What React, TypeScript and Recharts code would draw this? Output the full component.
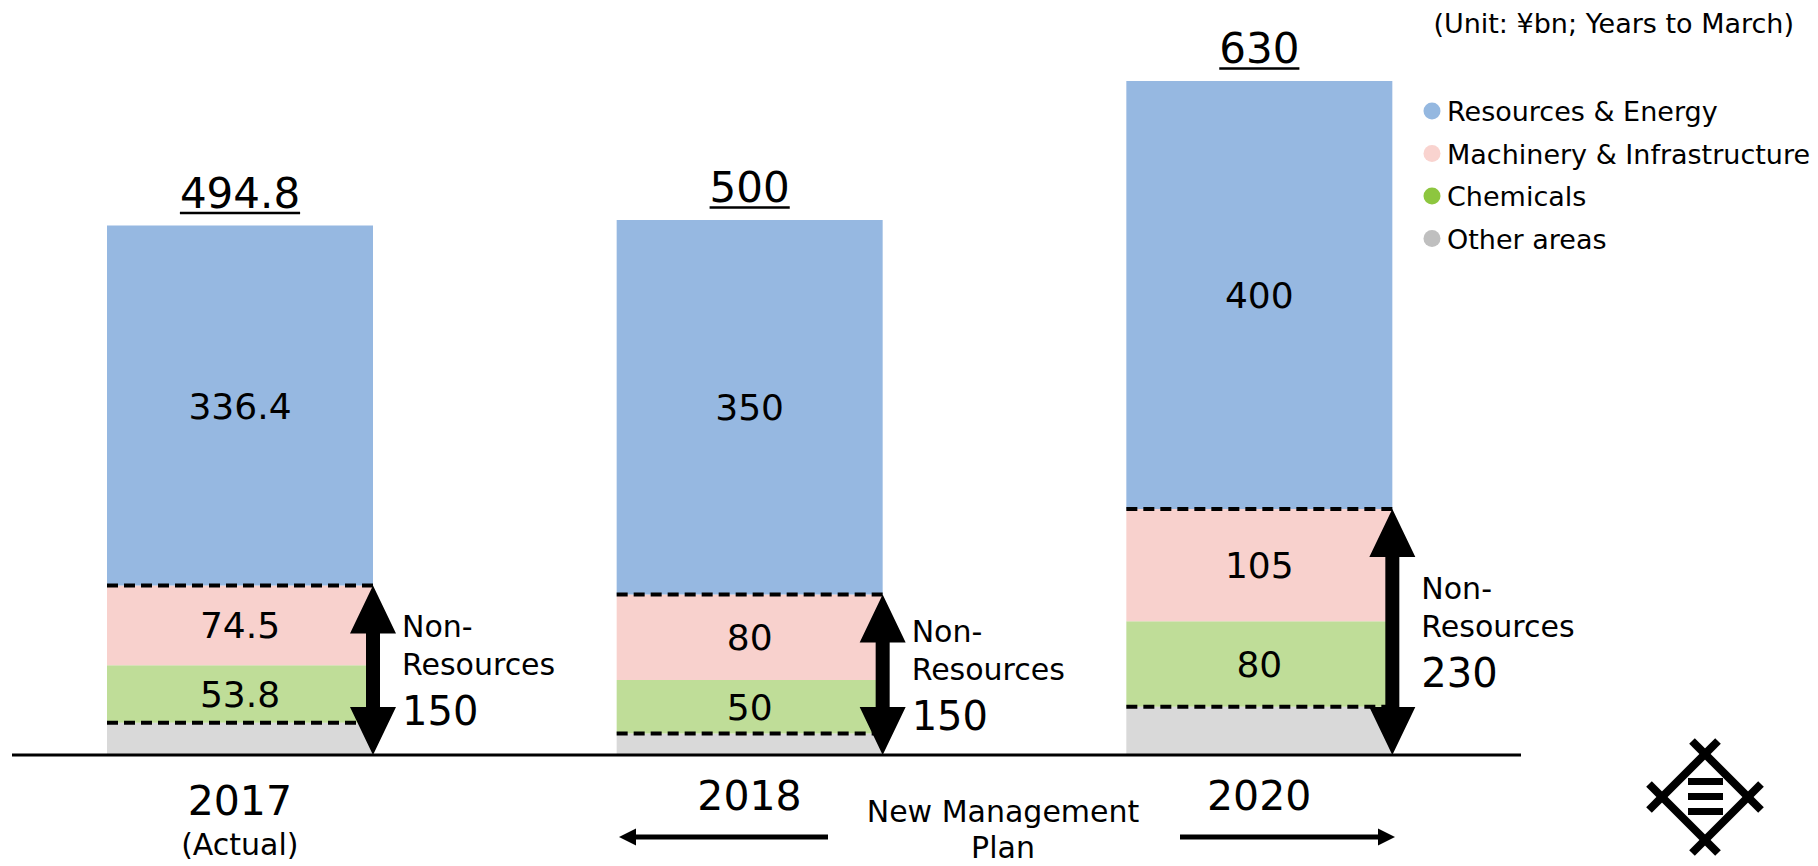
import React from 'react';
import { BarChart, Bar, XAxis, YAxis, LabelList } from 'recharts';

const years = ['2017', '2018', '2020'];
const yearNotes = ['(Actual)', '', ''];
const resourcesEnergy = [336.4, 350, 400];
const machineryInfra = [74.5, 80, 105];
const chemicals = [53.8, 50, 80];
const otherAreas = [30.1, 20, 45];
const totalLabels = ['494.8', '500', '630'];
const nonResourcesLabels = ['150', '150', '230'];

const seriesNames = ['Resources & Energy', 'Machinery & Infrastructure', 'Chemicals', 'Other areas'];
const barColors = ['#96B8E1', '#F8D1CD', '#BFDD98', '#D9D9D9'];
const legendColors = ['#95B8E0', '#F9D3CF', '#8DC63F', '#BFBFBF'];

const FONT = '"DejaVu Sans", Verdana, sans-serif';

const data = years.map((year, i) => ({
  year,
  other: otherAreas[i],
  chem: chemicals[i],
  mach: machineryInfra[i],
  res: resourcesEnergy[i],
}));

// approximate DejaVu Sans advance widths (em) for underline length
const charW = (c: string) => (c === '.' ? 0.318 : 0.636);
const textWidth = (s: string, size: number) => s.split('').reduce((a, c) => a + charW(c), 0) * size;

const getBox = (props: any) => {
  const vb = props.viewBox || {};
  return {
    x: Number(vb.x ?? props.x),
    y: Number(vb.y ?? props.y),
    width: Number(vb.width ?? props.width),
    height: Number(vb.height ?? props.height),
  };
};

const CenterLabel = (props: any) => {
  const { x, y, width, height } = getBox(props);
  return (
    <text
      x={x + width / 2}
      y={y + height / 2 + 13}
      textAnchor="middle"
      fontSize={36}
      fontFamily={FONT}
      fill="#000"
    >
      {props.value}
    </text>
  );
};

const TopAnnotations = (props: any) => {
  const { x, y, width, height } = getBox(props);
  const i = props.index;
  const ppu = height / resourcesEnergy[i];
  const machTop = y + height;
  const chemBottom = machTop + (machineryInfra[i] + chemicals[i]) * ppu;
  const base = chemBottom + otherAreas[i] * ppu;
  const cx = x + width / 2;
  const ax = x + width;
  const hw = 23;
  const hl = 48;
  const sw = 7;
  const pts = [
    [ax, machTop],
    [ax + hw, machTop + hl],
    [ax + sw, machTop + hl],
    [ax + sw, base - hl],
    [ax + hw, base - hl],
    [ax, base],
    [ax - hw, base - hl],
    [ax - sw, base - hl],
    [ax - sw, machTop + hl],
    [ax - hw, machTop + hl],
  ]
    .map((p) => p.join(','))
    .join(' ');
  const mid = (machTop + base) / 2;
  const tx = ax + 29;
  const total = totalLabels[i];
  const tw = textWidth(total, 42);
  return (
    <g>
      <line x1={x} x2={ax} y1={machTop} y2={machTop} stroke="#000" strokeWidth={4} strokeDasharray="11 6" />
      <line x1={x} x2={ax} y1={chemBottom} y2={chemBottom} stroke="#000" strokeWidth={4} strokeDasharray="11 6" />
      <polygon points={pts} fill="#000" />
      <text x={tx} y={mid - 33} fontSize={30} fontFamily={FONT} fill="#000">Non-</text>
      <text x={tx} y={mid + 5} fontSize={30} fontFamily={FONT} fill="#000">Resources</text>
      <text x={tx} y={mid + 55} fontSize={40} fontFamily={FONT} fill="#000">{nonResourcesLabels[i]}</text>
      <text x={cx} y={y - 18} textAnchor="middle" fontSize={42} fontFamily={FONT} fill="#000">{total}</text>
      <line x1={cx - tw / 2} x2={cx + tw / 2} y1={y - 12.5} y2={y - 12.5} stroke="#000" strokeWidth={2.5} />
    </g>
  );
};

const YearTick = (props: any) => {
  const { x, y, payload } = props;
  const i = years.indexOf(String(payload.value));
  const note = yearNotes[i];
  return (
    <g>
      <text x={x} y={y + (note ? 60 : 55)} textAnchor="middle" fontSize={41} fontFamily={FONT} fill="#000">
        {payload.value}
      </text>
      {note ? (
        <text x={x} y={y + 100} textAnchor="middle" fontSize={30} fontFamily={FONT} fill="#000">
          {note}
        </text>
      ) : null}
    </g>
  );
};

const Logo = () => {
  const cx = 1705;
  const cy = 797;
  const d = 43;
  const e = 13;
  const T = [cx, cy - d];
  const R = [cx + d, cy];
  const B = [cx, cy + d];
  const L = [cx - d, cy];
  const seg = (a: number[], b: number[]) => {
    const dx = Math.sign(b[0] - a[0]) * e;
    const dy = Math.sign(b[1] - a[1]) * e;
    return <line x1={a[0] - dx} y1={a[1] - dy} x2={b[0] + dx} y2={b[1] + dy} stroke="#000" strokeWidth={8} />;
  };
  return (
    <g>
      {seg(L, T)}
      {seg(T, R)}
      {seg(R, B)}
      {seg(B, L)}
      <rect x={1688} y={778} width={35} height={7} fill="#000" />
      <rect x={1688} y={793} width={35} height={7} fill="#000" />
      <rect x={1688} y={808} width={35} height={7} fill="#000" />
    </g>
  );
};

export default function App() {
  return (
    <div style={{ position: 'absolute', left: 0, top: 0, width: 1818, height: 866, background: '#fff' }}>
      <BarChart
        width={1818}
        height={866}
        data={data}
        margin={{ top: 6, right: 297, left: 12, bottom: 81 }}
        barSize={266}
      >
        <YAxis hide type="number" domain={[0, 700]} allowDataOverflow />
        <XAxis
          dataKey="year"
          height={30}
          padding={{ left: -27, right: 7 }}
          axisLine={{ stroke: '#000', strokeWidth: 3 }}
          tickLine={false}
          tickSize={0}
          tickMargin={0}
          interval={0}
          tick={(p: any) => <YearTick {...p} />}
        />
        <Bar dataKey="other" stackId="s" fill={barColors[3]} isAnimationActive={false} />
        <Bar dataKey="chem" stackId="s" fill={barColors[2]} isAnimationActive={false}>
          <LabelList dataKey="chem" content={(p: any) => <CenterLabel {...p} />} />
        </Bar>
        <Bar dataKey="mach" stackId="s" fill={barColors[1]} isAnimationActive={false}>
          <LabelList dataKey="mach" content={(p: any) => <CenterLabel {...p} />} />
        </Bar>
        <Bar dataKey="res" stackId="s" fill={barColors[0]} isAnimationActive={false}>
          <LabelList dataKey="res" content={(p: any) => <CenterLabel {...p} />} />
          <LabelList dataKey="res" content={(p: any) => <TopAnnotations {...p} />} />
        </Bar>
      </BarChart>
      <svg
        width={1818}
        height={866}
        style={{ position: 'absolute', left: 0, top: 0, pointerEvents: 'none' }}
      >
        <text x={1794} y={33} textAnchor="end" fontSize={27} fontFamily={FONT} fill="#000">
          (Unit: ¥bn; Years to March)
        </text>
        {seriesNames.map((name, i) => {
          const cy = 111 + i * 42.5;
          return (
            <g key={name}>
              <circle cx={1432} cy={cy} r={8.5} fill={legendColors[i]} />
              <text x={1447} y={cy + 10} fontSize={27} fontFamily={FONT} fill="#000">
                {name}
              </text>
            </g>
          );
        })}
        <text x={1003} y={822} textAnchor="middle" fontSize={30} fontFamily={FONT} fill="#000">
          New Management
        </text>
        <text x={1003} y={858} textAnchor="middle" fontSize={30} fontFamily={FONT} fill="#000">
          Plan
        </text>
        <line x1={634} x2={828} y1={837} y2={837} stroke="#000" strokeWidth={5} />
        <polygon points="619,837 636,828.5 636,845.5" fill="#000" />
        <line x1={1180} x2={1380} y1={837} y2={837} stroke="#000" strokeWidth={5} />
        <polygon points="1395,837 1378,828.5 1378,845.5" fill="#000" />
        <Logo />
      </svg>
    </div>
  );
}
